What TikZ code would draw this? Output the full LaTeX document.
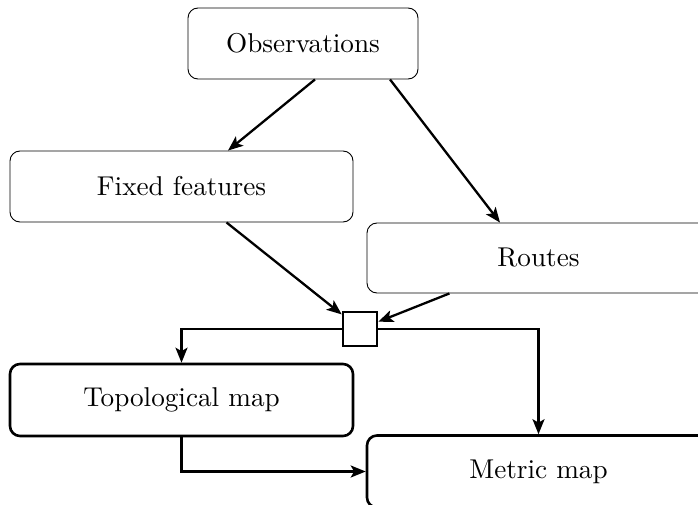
\documentclass[tikz,border=0pt]{standalone}
\usepackage{fontspec}
\setmainfont{lmroman10-regular.otf}
\usetikzlibrary{arrows.meta,calc}
\begin{document}
\begin{tikzpicture}[x=1pt,y=-1pt,
  box/.style={draw, rounded corners=10pt, line width=0.9pt, minimum width=343pt, minimum height=71pt, inner sep=0pt, font=\fontsize{27.2}{32}\selectfont},
  thickbox/.style={box, line width=2.6pt},
  arr/.style={line width=2.3pt, -{Stealth[length=15pt,width=12pt,inset=3.5pt]}}]
\clip (0,0) rectangle (698,505);
\node[box, minimum width=230pt] (obs) at (303,43.5) {Observations};
\node[box] (fixed) at (181.5,186.5) {Fixed features};
\node[box, minimum height=70pt] (routes) at (538.5,258) {Routes};
\node[draw, line width=2.6pt, minimum size=34pt, inner sep=0pt] (sq) at (360,329) {};
\node[thickbox, minimum height=72pt] (topo) at (181.5,400) {Topological map};
\node[thickbox, minimum height=72pt] (metric) at (538.5,471.5) {Metric map};
\draw[arr] ([xshift=12pt]obs.south) -- ([xshift=46.5pt]fixed.north);
\draw[arr] ([xshift=87pt]obs.south) -- ([xshift=-38.5pt]routes.north);
\draw[arr] (fixed) -- (sq);
\draw[arr] (routes) -- (sq);
\draw[arr] (sq.west) -| (topo.north);
\draw[arr] (sq.east) -| (metric.north);
\draw[arr] (topo.south) |- (metric.west);
\end{tikzpicture}
\end{document}
